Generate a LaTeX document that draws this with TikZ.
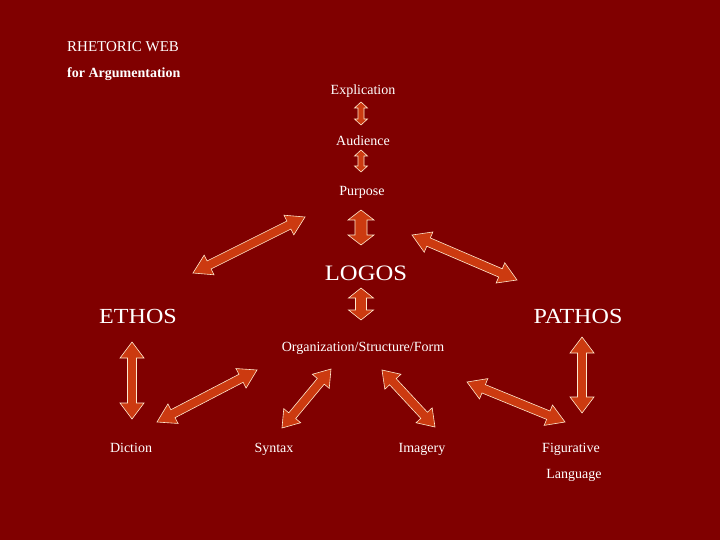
\documentclass[tikz,border=0pt]{standalone}
\usepackage{fontspec}
\setmainfont{Liberation Serif}
\newfontfamily\widefont[FakeStretch=1.12]{Liberation Serif}
\usetikzlibrary{calc}
\definecolor{bgred}{RGB}{128,0,0}
\definecolor{arrowfill}{RGB}{204,58,16}
\definecolor{arrowline}{RGB}{255,232,205}
\tikzset{
  blockarrow/.style={fill=arrowfill, draw=arrowline, line width=0.6pt, line join=miter},
  smalltxt/.style={text=white, font=\fontsize{14}{16}\selectfont, anchor=base, inner sep=0pt},
  bigtxt/.style={text=white, font=\widefont\fontsize{21.5}{25}\selectfont, anchor=base, inner sep=0pt},
}
\newcommand{\dblarrow}[5]{%
  \coordinate (ha) at ($(#1)!#5!(#2)$);
  \coordinate (hb) at ($(#2)!#5!(#1)$);
  \draw[blockarrow] (#1) -- ($(ha)!#4!90:(#2)$) -- ($(ha)!#3!90:(#2)$)
    -- ($(hb)!#3!-90:(#1)$) -- ($(hb)!#4!-90:(#1)$) -- (#2)
    -- ($(hb)!#4!90:(#1)$) -- ($(hb)!#3!90:(#1)$)
    -- ($(ha)!#3!-90:(#2)$) -- ($(ha)!#4!-90:(#2)$) -- cycle;}
\begin{document}
\begin{tikzpicture}[x=1pt,y=-1pt]
\fill[bgred] (0,0) rectangle (720,540);
\useasboundingbox (0,0) rectangle (720,540);

% titles
\node[smalltxt, anchor=base west, font=\fontsize{15}{17}\selectfont] (title) at (67,52) {RHETORIC WEB};
\node[smalltxt, anchor=base west, font=\bfseries\fontsize{14}{16}\selectfont] (sub) at (67,78) {for Argumentation};

% texts
\node[smalltxt] (expl) at (363,95) {Explication};
\node[smalltxt] (aud) at (363,146) {Audience};
\node[smalltxt] (purp) at (362,196) {Purpose};
\node[bigtxt, font=\widefont\fontsize{22}{26}\selectfont] (logos) at (366,280) {LOGOS};
\node[bigtxt] (ethos) at (138,323) {ETHOS};
\node[bigtxt] (pathos) at (578,323) {PATHOS};
\node[smalltxt] (org) at (363,351) {Organization/Structure/Form};
\node[smalltxt] (dict) at (131,452) {Diction};
\node[smalltxt] (synt) at (274,452) {Syntax};
\node[smalltxt] (imag) at (422,452) {Imagery};
\node[smalltxt] (fig) at (571,452) {Figurative};
\node[smalltxt] (lang) at (574,478) {Language};

% arrow end points
\coordinate (a1s) at (361,102); \coordinate (a1e) at (361,125);
\coordinate (a2s) at (361,150); \coordinate (a2e) at (361,172);
\coordinate (a3s) at (361,210); \coordinate (a3e) at (361,245);
\coordinate (a4s) at (361,288); \coordinate (a4e) at (361,320);
\coordinate (a5s) at (193,273); \coordinate (a5e) at (305,217);
\coordinate (a6s) at (412,235); \coordinate (a6e) at (517,280);
\coordinate (a7s) at (132,342); \coordinate (a7e) at (132,419);
\coordinate (a8s) at (157,422); \coordinate (a8e) at (257,370);
\coordinate (a9s) at (282,428); \coordinate (a9e) at (331,369);
\coordinate (a10s) at (382,370); \coordinate (a10e) at (435,427);
\coordinate (a11s) at (467,382); \coordinate (a11e) at (565,422);
\coordinate (a12s) at (582,337); \coordinate (a12e) at (582,413);

\dblarrow{a1s}{a1e}{3pt}{6.5pt}{6pt}
\dblarrow{a2s}{a2e}{3pt}{6.5pt}{6pt}
\dblarrow{a3s}{a3e}{6pt}{13pt}{10pt}
\dblarrow{a4s}{a4e}{5.5pt}{12.5pt}{10pt}
\dblarrow{a5s}{a5e}{4.5pt}{11pt}{18pt}
\dblarrow{a6s}{a6e}{4.5pt}{11pt}{18pt}
\dblarrow{a7s}{a7e}{4.5pt}{12pt}{16pt}
\dblarrow{a8s}{a8e}{4.5pt}{11pt}{18pt}
\dblarrow{a9s}{a9e}{4.5pt}{11pt}{16pt}
\dblarrow{a10s}{a10e}{4.5pt}{11pt}{16pt}
\dblarrow{a11s}{a11e}{4.5pt}{11pt}{18pt}
\dblarrow{a12s}{a12e}{4.5pt}{12pt}{16pt}
\end{tikzpicture}
\end{document}
